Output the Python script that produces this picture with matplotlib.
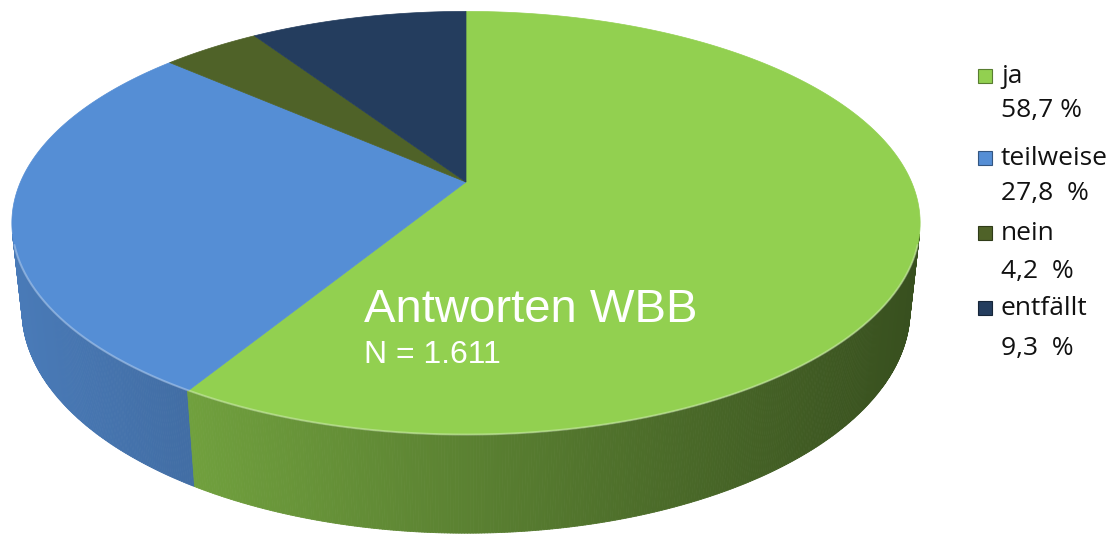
import numpy as np
import matplotlib
matplotlib.use("Agg")
import matplotlib.pyplot as plt
from matplotlib.patches import Polygon, Rectangle
from matplotlib.collections import PolyCollection

# data
labels = ['ja', 'teilweise', 'nein', 'entfällt']
values = [58.7, 27.8, 4.2, 9.3]
pct_labels = ['58,7 %', '27,8  %', '4,2  %', '9,3  %']
top_colors = ['#92D050', '#558ED5', '#4F6228', '#243D5E']
title = 'Antworten WBB'
subtitle = 'N = 1.611'

W, H = 1117, 539

# perspective camera for the 3d pie
D = 4.59
phi = np.radians(27.2)
f = 2045.0
cx, cy = 466.0, 182.0
depth = 0.22
cphi, sphi = np.cos(phi), np.sin(phi)


def proj(th, z=0.0):
    X = np.cos(th)
    Y = np.sin(th)
    ry = Y + D * cphi
    rz = z - D * sphi
    yc = ry * sphi + rz * cphi
    zc = ry * cphi - rz * sphi
    return cx + f * X / zc, cy - f * yc / zc


def shade(hexcol, k):
    rgb = np.array(matplotlib.colors.to_rgb(hexcol))
    return tuple(np.clip(rgb * k, 0, 1))


fig = plt.figure(figsize=(W / 100, H / 100), dpi=100)
ax = fig.add_axes([0, 0, 1, 1])
ax.set_xlim(0, W)
ax.set_ylim(H, 0)
ax.axis('off')

# slice angles, clockwise from 12 o'clock
fr = np.array(values) / np.sum(values)
cum = np.concatenate([[0], np.cumsum(fr)])
starts = np.radians(90 - 360 * cum[:-1])
ends = np.radians(90 - 360 * cum[1:])


def slice_of(th):
    d = ((np.pi / 2 - th) % (2 * np.pi)) / (2 * np.pi)
    return int(np.searchsorted(cum, d, side='right') - 1)


# side wall (front facing part only)
lim = np.arcsin(-1.0 / (D * cphi))
t0 = np.pi - lim
t1 = 2 * np.pi + lim
ts = np.linspace(t0, t1, 500)
quads, qcols = [], []
for a, b in zip(ts[:-1], ts[1:]):
    xa, ya = proj(a)
    xb, yb = proj(b)
    xa2, ya2 = proj(a, -depth)
    xb2, yb2 = proj(b, -depth)
    quads.append([(xa, ya), (xb, yb), (xb2, yb2), (xa2, ya2)])
    k = 0.87 - 0.00053 * (xa + xb) / 2
    qcols.append(shade(top_colors[slice_of((a + b) / 2)], k))
ax.add_collection(PolyCollection(quads, facecolors=qcols, edgecolors=qcols, linewidths=0.6))

# top face
for i in range(len(values)):
    th = np.linspace(starts[i], ends[i], 200)
    px, py = proj(th)
    pts = [(cx, cy)] + list(zip(px, py))
    ax.add_patch(Polygon(pts, closed=True, facecolor=top_colors[i],
                         edgecolor=top_colors[i], linewidth=0.5))

# light rim on front edge
th = np.linspace(t0 + 0.05, t1 - 0.05, 300)
px, py = proj(th)
ax.plot(px, py, color='white', alpha=0.3, lw=1.5)

# texts on the pie
ax.text(364, 322, title, color='white', fontsize=34, family='Liberation Sans', va='baseline', ha='left')
ax.text(364, 363, subtitle, color='white', fontsize=23, family='Liberation Sans', va='baseline', ha='left')

# legend
label_base = [83, 165, 240, 315]
pct_base = [117, 200, 278, 355]
for i in range(len(labels)):
    ax.add_patch(Rectangle((978, label_base[i] - 14), 14, 14, facecolor=top_colors[i],
                           edgecolor=shade(top_colors[i], 0.6), linewidth=0.8))
    ax.text(1001, label_base[i], labels[i], fontsize=19, family='Open Sans', color='#111111',
            va='baseline', ha='left')
    ax.text(1001, pct_base[i], pct_labels[i], fontsize=19, family='Open Sans', color='#111111',
            va='baseline', ha='left')

fig.savefig('out.png', dpi=100)
